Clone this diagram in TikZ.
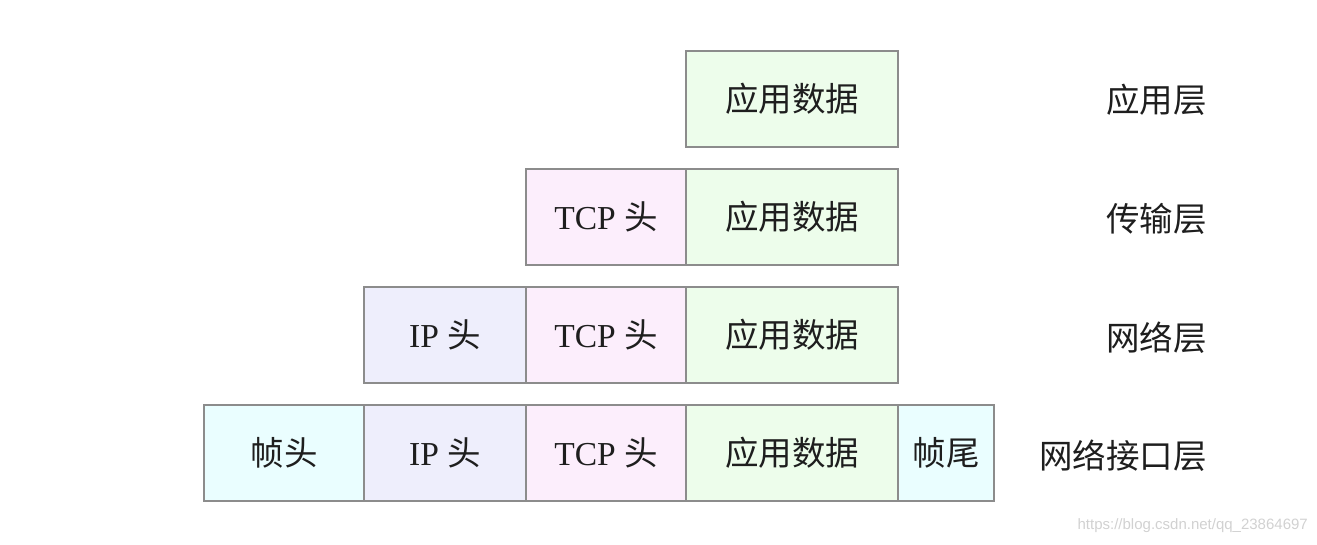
\documentclass[tikz,border=0pt]{standalone}
\usepackage{fontspec}
\setmainfont{Liberation Serif}
\newfontfamily\cjk{Noto Sans CJK SC}
\newfontfamily\wm{Liberation Sans}
\definecolor{appc}{HTML}{EDFDEB}
\definecolor{tcpc}{HTML}{FCEEFC}
\definecolor{ipc}{HTML}{EEEEFC}
\definecolor{frc}{HTML}{EAFEFF}
\definecolor{bord}{HTML}{8C8C8C}
\definecolor{txt}{HTML}{1E1E1E}
\begin{document}
\begin{tikzpicture}[x=1pt,y=-1pt,
  cell/.style={draw=bord,line width=2pt,inner sep=0pt,text=txt,font=\fontsize{33.5}{35}\selectfont},
  lay/.style={anchor=east,inner sep=0pt,text=txt,font=\cjk\fontsize{33.5}{35}\selectfont}]
\useasboundingbox (0,0) rectangle (1317,545);
% row 1
\node[cell,fill=appc,minimum width=212pt,minimum height=96pt] (a1) at (792,99) {\cjk 应用数据};
% row 2
\node[cell,fill=tcpc,minimum width=160pt,minimum height=96pt] (t2) at (606,217) {TCP {\cjk 头}};
\node[cell,fill=appc,minimum width=212pt,minimum height=96pt] (a2) at (792,217) {\cjk 应用数据};
% row 3
\node[cell,fill=ipc,minimum width=162pt,minimum height=96pt] (i3) at (445,335) {IP {\cjk 头}};
\node[cell,fill=tcpc,minimum width=160pt,minimum height=96pt] (t3) at (606,335) {TCP {\cjk 头}};
\node[cell,fill=appc,minimum width=212pt,minimum height=96pt] (a3) at (792,335) {\cjk 应用数据};
% row 4
\node[cell,fill=frc,minimum width=160pt,minimum height=96pt] (f4) at (284,453) {\cjk 帧头};
\node[cell,fill=ipc,minimum width=162pt,minimum height=96pt] (i4) at (445,453) {IP {\cjk 头}};
\node[cell,fill=tcpc,minimum width=160pt,minimum height=96pt] (t4) at (606,453) {TCP {\cjk 头}};
\node[cell,fill=appc,minimum width=212pt,minimum height=96pt] (a4) at (792,453) {\cjk 应用数据};
\node[cell,fill=frc,minimum width=96pt,minimum height=96pt] (e4) at (946,453) {\cjk 帧尾};
% layer labels
\node[lay] (l1) at (1207,100) {应用层};
\node[lay] (l2) at (1207,219) {传输层};
\node[lay] (l3) at (1207,338) {网络层};
\node[lay] (l4) at (1207,456) {网络接口层};
% watermark
\node[anchor=east,inner sep=0pt,text=black!18,font=\wm\fontsize{15}{16}\selectfont] (wm) at (1308,526) {https://blog.csdn.net/qq\_23864697};
\end{tikzpicture}
\end{document}
